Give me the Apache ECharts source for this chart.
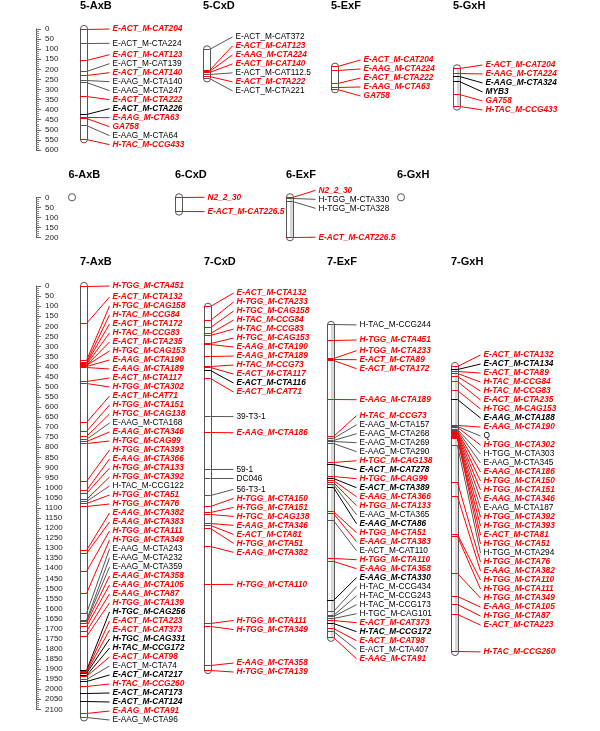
<!DOCTYPE html>
<html>
<head>
<meta charset="utf-8">
<script src="https://cdn.jsdelivr.net/npm/echarts/dist/echarts.min.js"></script>
<style>
  html, body { margin: 0; padding: 0; background: #fff; }
  #chart { width: 600px; height: 731px; }
</style>
</head>
<body>
<div id="chart"></div>
<script>
// ---- map data: marker names, positions, kind (r = red, b = bold black, n = plain) ----
var m5AxB = ["E-ACT_M-CAT204", "E-ACT_M-CTA224", "E-ACT_M-CAT123", "E-ACT_M-CAT139", "E-ACT_M-CAT140",
  "E-AAG_M-CTA140", "E-AAG_M-CTA247", "E-ACT_M-CTA222", "E-ACT_M-CTA226", "E-AAG_M-CTA63", "GA758",
  "E-AAG_M-CTA64", "H-TAC_M-CCG433"];
var p5AxB = [0, 71, 154, 212, 233, 253, 263, 336, 426, 438, 445, 481, 547];
var k5AxB = "rnrnrnnrbrrnr";

var m5CxD = ["E-ACT_M-CAT372", "E-ACT_M-CAT123", "E-AAG_M-CTA224", "E-ACT_M-CAT140", "E-ACT_M-CAT112.5",
  "E-ACT_M-CTA222", "E-ACT_M-CTA221"];
var p5CxD = [101, 206, 213, 218, 226, 238, 245];
var k5CxD = "nrrrnrn";

var m5ExF = ["E-ACT_M-CAT204", "E-AAG_M-CTA224", "E-ACT_M-CTA222", "E-AAG_M-CTA63", "GA758"];
var p5ExF = [187, 208, 269, 289, 299];
var k5ExF = "rrrrr";

var m5GxH = ["E-ACT_M-CAT204", "E-AAG_M-CTA224", "E-AAG_M-CTA324", "MYB3", "GA758", "H-TAC_M-CCG433"];
var p5GxH = [195, 223, 236, 261, 327, 385];
var k5GxH = "rrbbrr";

var m6AxB = [];
var p6AxB = [];
var k6AxB = "";

var m6CxD = ["N2_2_30", "E-ACT_M-CAT226.5"];
var p6CxD = [0, 71];
var k6CxD = "rr";

var m6ExF = ["N2_2_30", "H-TGG_M-CTA330", "H-TGG_M-CTA328", "E-ACT_M-CAT226.5"];
var p6ExF = [0, 8, 20, 198];
var k6ExF = "rnnr";

var m6GxH = [];
var p6GxH = [];
var k6GxH = "";

var m7AxB = ["H-TGG_M-CTA451", "E-ACT_M-CTA132", "H-TGC_M-CAG158", "H-TAC_M-CCG84", "E-ACT_M-CTA172",
  "H-TAC_M-CCG83", "E-ACT_M-CTA235", "H-TGC_M-CAG153", "E-AAG_M-CTA190", "E-AAG_M-CTA189",
  "E-ACT_M-CTA117", "H-TGG_M-CTA302", "E-ACT_M-CAT71", "H-TGG_M-CTA151", "H-TGC_M-CAG138",
  "E-AAG_M-CTA168", "E-AAG_M-CTA346", "H-TGC_M-CAG99", "H-TGG_M-CTA393", "E-AAG_M-CTA366",
  "H-TGG_M-CTA133", "H-TGG_M-CTA392", "H-TAC_M-CCG122", "H-TGG_M-CTA51", "H-TGG_M-CTA76",
  "E-AAG_M-CTA382", "E-AAG_M-CTA383", "H-TGG_M-CTA111", "H-TGG_M-CTA349", "E-AAG_M-CTA243",
  "E-AAG_M-CTA232", "E-AAG_M-CTA359", "E-AAG_M-CTA358", "E-AAG_M-CTA105", "E-AAG_M-CTA87",
  "H-TGG_M-CTA139", "H-TGC_M-CAG256", "E-ACT_M-CTA223", "E-ACT_M-CAT373", "H-TGC_M-CAG331",
  "H-TAC_M-CCG172", "E-ACT_M-CAT98", "E-ACT_M-CTA74", "E-ACT_M-CAT217", "H-TAC_M-CCG260",
  "E-ACT_M-CAT173", "E-ACT_M-CAT124", "E-AAG_M-CTA91", "E-AAG_M-CTA96"];
var p7AxB = [0, 185, 372, 377, 382, 387, 392, 396, 400, 404,
  474, 486, 676, 724, 747, 760, 772, 783, 971, 1012,
  1028, 1061, 1070, 1078, 1095, 1310, 1326, 1417, 1524, 1624,
  1657, 1665, 1673, 1690, 1715, 1740, 1905, 1912, 1918, 1924,
  1930, 1936, 1950, 1960, 1988, 2020, 2062, 2120, 2140];
var k7AxB = "rrrrrrrrrrrrrrrnrrrrrrnrrrrrrnnnrrrrbrrbbrnbrbbrn";

var m7CxD = ["E-ACT_M-CTA132", "H-TGG_M-CTA233", "H-TGC_M-CAG158", "H-TAC_M-CCG84", "H-TAC_M-CCG83",
  "H-TGC_M-CAG153", "E-AAG_M-CTA190", "E-AAG_M-CTA189", "H-TAC_M-CCG73", "E-ACT_M-CTA117",
  "E-ACT_M-CTA116", "E-ACT_M-CAT71", "39-T3-1", "E-AAG_M-CTA186", "59-1", "DC046", "56-T3-1",
  "H-TGG_M-CTA150", "H-TGG_M-CTA151", "H-TGC_M-CAG138", "E-AAG_M-CTA346", "E-ACT_M-CTA81",
  "H-TGG_M-CTA51", "E-AAG_M-CTA382", "H-TGG_M-CTA110", "H-TGG_M-CTA111", "H-TGG_M-CTA349",
  "E-AAG_M-CTA358", "H-TGG_M-CTA139"];
var p7CxD = [103, 172, 205, 238, 248, 285, 292, 351, 397, 403,
  417, 458, 648, 728, 910, 955, 1040, 1095, 1123, 1132,
  1178, 1190, 1205, 1290, 1480, 1673, 1690, 1880, 1905];
var k7CxD = "rrrrrrrrrrbrnrnnnrrrrrrrrrrrr";

var m7ExF = ["H-TAC_M-CCG244", "H-TGG_M-CTA451", "H-TGG_M-CTA233", "E-ACT_M-CTA89", "E-ACT_M-CTA172",
  "E-AAG_M-CTA189", "H-TAC_M-CCG73", "E-AAG_M-CTA157", "E-AAG_M-CTA268", "E-AAG_M-CTA269",
  "E-AAG_M-CTA290", "H-TGC_M-CAG138", "E-ACT_M-CAT278", "H-TGC_M-CAG99", "E-ACT_M-CTA389",
  "E-AAG_M-CTA366", "H-TGG_M-CTA133", "E-AAG_M-CTA365", "E-AAG_M-CTA86", "H-TGG_M-CTA51",
  "E-AAG_M-CTA383", "E-ACT_M-CAT110", "H-TGG_M-CTA110", "E-AAG_M-CTA358", "E-AAG_M-CTA330",
  "H-TAC_M-CCG434", "H-TAC_M-CCG243", "H-TAC_M-CCG173", "H-TGC_M-CAG101", "E-ACT_M-CAT373",
  "H-TAC_M-CCG172", "E-ACT_M-CAT98", "E-ACT_M-CTA407", "E-AAG_M-CTA91"];
var p7ExF = [193, 268, 359, 367, 372, 564, 747, 755, 764, 772,
  780, 874, 884, 946, 954, 965, 975, 985, 1000, 1120,
  1127, 1161, 1351, 1368, 1558, 1616, 1632, 1640, 1650, 1660,
  1675, 1700, 1715, 1745];
var k7ExF = "nrrrrrrnnnnrbrbrrnbrrnrrbnnnnrbrnr";

var m7GxH = ["E-ACT_M-CTA132", "E-ACT_M-CTA134", "E-ACT_M-CTA89", "H-TAC_M-CCG84", "H-TAC_M-CCG83",
  "E-ACT_M-CTA235", "H-TGC_M-CAG153", "E-AAG_M-CTA188", "E-AAG_M-CTA190", "Q",
  "H-TGG_M-CTA302", "H-TGG_M-CTA303", "E-AAG_M-CTA345", "E-AAG_M-CTA186", "H-TGG_M-CTA150",
  "H-TGG_M-CTA151", "E-AAG_M-CTA346", "E-AAG_M-CTA187", "H-TGG_M-CTA392", "H-TGG_M-CTA393",
  "E-ACT_M-CTA81", "H-TGG_M-CTA51", "H-TGG_M-CTA294", "H-TGG_M-CTA76", "E-AAG_M-CTA382",
  "H-TGG_M-CTA110", "H-TGG_M-CTA111", "H-TGG_M-CTA349", "E-AAG_M-CTA105", "H-TGG_M-CTA87",
  "E-ACT_M-CTA223", "H-TAC_M-CCG260"];
var p7GxH = [397, 413, 425, 436, 451, 476, 516, 565, 690, 695,
  704, 712, 718, 724, 729, 734, 739, 743, 747, 751,
  754, 757, 789, 977, 1045, 1235, 1245, 1424, 1541, 1580,
  1627, 1815];
var k7GxH = "rbrrrrrbrnrnnrrrrnrrrrnrrrrrrrrr";

var rulerMax = [600, 200, 2100];   // ruler length per row

// ---- layout ----
var K = 0.2016;                       // px per map unit
var rowTop = [29, 197.3, 286];
var panelMax = [800, 400, 2200];      // axis extent of the chromosome panels (must fit the page)
var rowTitleY = [7.3, 175.6, 263.3];
var rulerX = 36;
var CH_W = 6.5;
var PAD = 3.6;
var GAP = 9.0;
var LABEL_MAX_Y = 720;
var FONT = 'Arial, "Liberation Sans", Helvetica, sans-serif';
var RED = "#ff0000";

var panels = [
  { title: "5-AxB", row: 0, x: 80, names: m5AxB, pos: p5AxB, kind: k5AxB },
  { title: "5-CxD", row: 0, x: 203, names: m5CxD, pos: p5CxD, kind: k5CxD },
  { title: "5-ExF", row: 0, x: 331, names: m5ExF, pos: p5ExF, kind: k5ExF },
  { title: "5-GxH", row: 0, x: 453, names: m5GxH, pos: p5GxH, kind: k5GxH, shade: true },
  { title: "6-AxB", row: 1, x: 68.5, names: m6AxB, pos: p6AxB, kind: k6AxB },
  { title: "6-CxD", row: 1, x: 175, names: m6CxD, pos: p6CxD, kind: k6CxD },
  { title: "6-ExF", row: 1, x: 286, names: m6ExF, pos: p6ExF, kind: k6ExF, shade: true },
  { title: "6-GxH", row: 1, x: 397, names: m6GxH, pos: p6GxH, kind: k6GxH },
  { title: "7-AxB", row: 2, x: 80, names: m7AxB, pos: p7AxB, kind: k7AxB },
  { title: "7-CxD", row: 2, x: 204, names: m7CxD, pos: p7CxD, kind: k7CxD },
  { title: "7-ExF", row: 2, x: 327, names: m7ExF, pos: p7ExF, kind: k7ExF, shade: true },
  { title: "7-GxH", row: 2, x: 451, names: m7GxH, pos: p7GxH, kind: k7GxH, shade: true }
];

// label placement: stack overlapping labels top-down, centre each stack between
// its outer markers (never below maxY), then merge colliding stacks and split
// stacks whose halves would no longer collide
function spreadLabels(ys, gap, maxY) {
  var groups = [], last = -Infinity;
  ys.forEach(function (y, i) {
    if (groups.length && y < last + gap) { groups[groups.length - 1].b = i; last += gap; }
    else { groups.push({ a: i, b: i }); last = y; }
  });
  function top(a, b) {
    var t = (ys[a] + ys[b]) / 2 - (b - a) * gap / 2;
    return Math.min(t, maxY - (b - a) * gap);
  }
  function clash(a1, b1, a2, b2) {
    return top(a2, b2) - (top(a1, b1) + (b1 - a1) * gap) < gap - 0.01;
  }
  function mergeOnce() {
    for (var k = 0; k < groups.length - 1; k++) {
      var g = groups[k], h = groups[k + 1];
      if (clash(g.a, g.b, h.a, h.b)) {
        groups.splice(k, 2, { a: g.a, b: h.b });
        return true;
      }
    }
    return false;
  }
  function splitOnce() {
    for (var k = 0; k < groups.length; k++) {
      var g = groups[k];
      for (var s = g.a; s < g.b; s++) {
        if (!clash(g.a, s, s + 1, g.b)) {
          groups.splice(k, 1, { a: g.a, b: s }, { a: s + 1, b: g.b });
          return true;
        }
      }
    }
    return false;
  }
  for (var it = 0; it < 400; it++) {
    if (!mergeOnce() && !splitOnce()) break;
  }
  var out = [];
  groups.forEach(function (g) {
    var t = top(g.a, g.b);
    for (var i = g.a; i <= g.b; i++) out[i] = t + (i - g.a) * gap;
  });
  return out;
}

function crisp(v) { return Math.round(v - 0.5) + 0.5; }

var grids = [], xAxes = [], yAxes = [], series = [], graphics = [];

// rulers
rulerMax.forEach(function (max, r) {
  grids.push({ left: rulerX, top: rowTop[r], width: 1, height: max * K });
  xAxes.push({ gridIndex: grids.length - 1, type: "value", show: false, min: 0, max: 1 });
  yAxes.push({
    gridIndex: grids.length - 1, type: "value", inverse: true, min: 0, max: max, interval: 50,
    position: "left",
    axisLine: { show: true, lineStyle: { color: "#555", width: 1 } },
    axisTick: { show: true, inside: true, length: 5, lineStyle: { color: "#666" } },
    minorTick: { show: true, splitNumber: 5, length: 3, lineStyle: { color: "#888" } },
    axisLabel: { inside: true, margin: 9, fontSize: 8, color: "#222", fontFamily: FONT,
      formatter: function (v) { return String(v); } },
    splitLine: { show: false }
  });
  series.push({ type: "scatter", xAxisIndex: xAxes.length - 1, yAxisIndex: yAxes.length - 1, data: [], silent: true });
});

panels.forEach(function (p) {
  var gi = grids.length;
  var max = panelMax[p.row];
  grids.push({ left: p.x, top: rowTop[p.row], width: CH_W, height: max * K });
  xAxes.push({ gridIndex: gi, type: "value", show: false, min: 0, max: 1 });
  yAxes.push({ gridIndex: gi, type: "value", show: false, inverse: true, min: 0, max: max });

  graphics.push({
    type: "text", left: p.x, top: rowTitleY[p.row] - 6.5,
    style: { text: p.title, font: "bold 11px " + FONT, fill: "#000" }
  });

  var lo = p.pos.length ? Math.min.apply(null, p.pos) : 0;
  var hi = p.pos.length ? Math.max.apply(null, p.pos) : 0;

  // chromosome body
  series.push({
    type: "custom", xAxisIndex: gi, yAxisIndex: gi, silent: true, z: 1,
    data: [[lo, hi]],
    renderItem: function (params, api) {
      var a = api.coord([0, api.value(0)]);
      var b = api.coord([1, api.value(1)]);
      var x = crisp(a[0]), w = Math.round(b[0] - a[0]);
      var y = a[1] - PAD, h = b[1] - a[1] + 2 * PAD;
      var kids = [{
        type: "rect", shape: { x: x, y: y, width: w, height: h, r: w / 2 },
        style: { fill: "#fff", stroke: "#555", lineWidth: 1 }
      }];
      if (p.shade && h > 10) {
        kids.push({
          type: "rect", shape: { x: x + w * 0.5, y: y + 3, width: w * 0.4, height: h - 6 },
          style: { fill: "#d6d6d6" }
        });
      }
      return { type: "group", children: kids };
    }
  });

  if (!p.pos.length) return;

  // markers, connectors and labels
  series.push({
    type: "custom", xAxisIndex: gi, yAxisIndex: gi, silent: true, z: 2,
    data: p.pos.map(function (v, i) { return [0, v, i]; }),
    renderItem: function (params, api) {
      var i = api.value(2);
      var ys = p.pos.map(function (v) { return api.coord([0, v])[1]; });
      var ly = spreadLabels(ys, GAP, LABEL_MAX_Y);
      var x0 = api.coord([0, 0])[0], x1 = api.coord([1, 0])[0];
      var kind = p.kind.charAt(i);
      var col = kind === "r" ? RED : (kind === "b" ? "#000" : "#555");
      var txtCol = kind === "r" ? RED : "#000";
      var y = crisp(ys[i]);
      var font = (kind === "n" ? "" : "italic bold ") + "8.3px " + FONT;
      return {
        type: "group",
        children: [
          { type: "line", shape: { x1: x0, y1: y, x2: x1, y2: y }, style: { stroke: col, lineWidth: 1 } },
          { type: "polyline", shape: { points: [[x1, y], [x1 + 23, ly[i]]] },
            style: { stroke: col, lineWidth: 1, fill: null } },
          { type: "text", x: x1 + 26, y: ly[i],
            style: { text: p.names[i], font: font, fill: txtCol, verticalAlign: "middle", align: "left" } }
        ]
      };
    }
  });
});

var chart = echarts.init(document.getElementById("chart"), null, { renderer: "canvas" });
chart.setOption({
  animation: false,
  backgroundColor: "#fff",
  grid: grids,
  xAxis: xAxes,
  yAxis: yAxes,
  graphic: graphics,
  series: series
});
</script>
</body>
</html>
